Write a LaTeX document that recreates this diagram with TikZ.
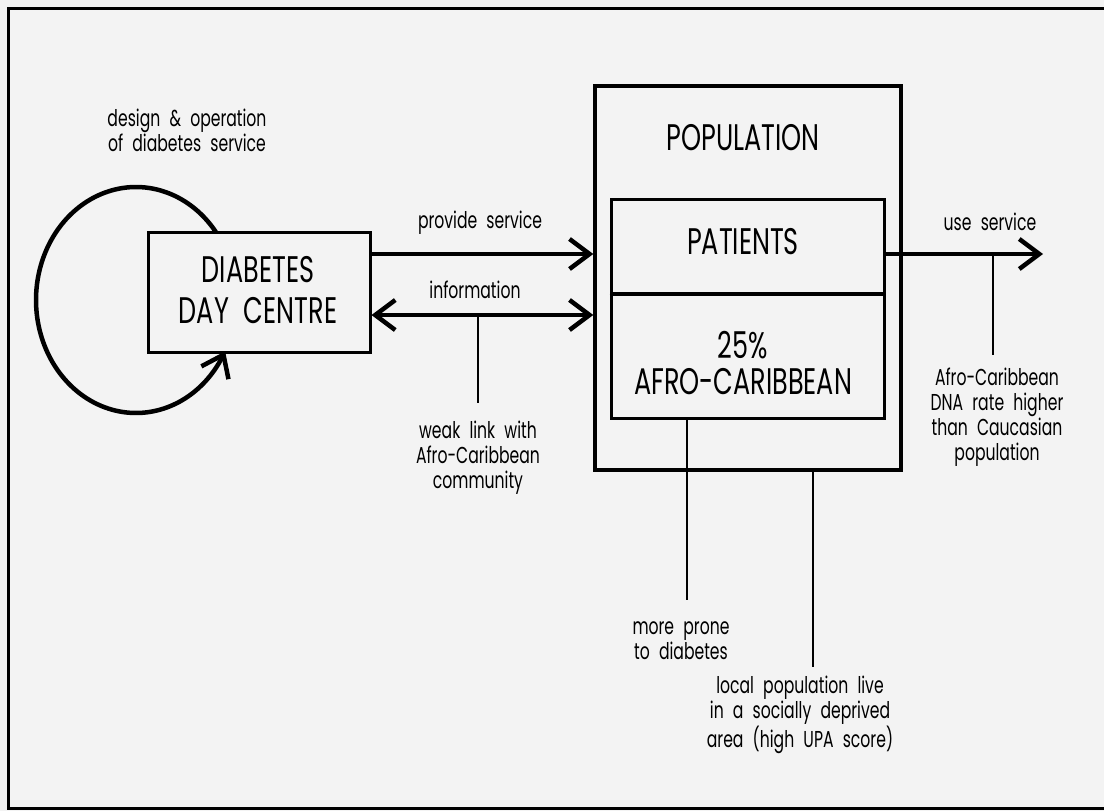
\documentclass[tikz,border=0pt]{standalone}
\usepackage{fontspec}
\setmainfont{Poppins}[FakeStretch=0.69, WordSpace=2.2]
\newfontfamily\labelfont{Poppins}[FakeStretch=0.68, WordSpace=2.2]
\usetikzlibrary{arrows.meta}
\definecolor{paper}{HTML}{F3F3F3}
\begin{document}
\begin{tikzpicture}[x=1pt, y=-1pt,
  lbl/.style={align=center, inner sep=0pt, font=\labelfont\fontsize{23}{25}\selectfont},
  bigtxt/.style={align=center, inner sep=0pt, font=\fontsize{37}{40}\selectfont},
  boxthick/.style={draw, line width=3pt, inner sep=0pt},
  arr/.style={line width=4.5pt, -{Straight Barb[length=20pt, width=30pt]}},
  darr/.style={line width=4.5pt, {Straight Barb[length=20pt, width=30pt]}-{Straight Barb[length=20pt, width=30pt]}},
  leader/.style={line width=1.6pt}]

% page and frame
\fill[paper] (0,0) rectangle (1104,811);
\useasboundingbox (0,0) rectangle (1104,811);
\draw[line width=3pt] (1104,8) -- (8,8) -- (8,808) -- (1104,808);

% boxes
\node[boxthick, minimum width=222pt, minimum height=120pt] (ddc) at (259,292) {};
\node[boxthick, line width=3.5pt, minimum width=306pt, minimum height=384pt] (pop) at (748,278) {};
\node[boxthick, minimum width=273pt, minimum height=94pt] (pat) at (747.5,246) {};
\node[boxthick, minimum width=273pt, minimum height=125pt] (afro) at (747.5,355.5) {};
\draw[line width=2pt] (pat.south west) -- (pat.south east);

% box texts
\node[bigtxt] (tddc1) at (258,270) {DIABETES};
\node[bigtxt] (tddc2) at (258,311) {DAY CENTRE};
\node[bigtxt] (tpop) at (743,138) {POPULATION};
\node[bigtxt] (tpat) at (743,242) {PATIENTS};
\node[bigtxt] (tpct) at (743,345) {25\%};
\node[bigtxt] (tafro) at (743,382) {AFRO-CARIBBEAN};

% self loop: design and operation
\draw[line width=4.5pt, -{Straight Barb[length=20pt, width=30pt]}]
  plot[domain=-37:-333, samples=80, smooth] ({136+100*cos(\x)}, {300+113*sin(\x)});
\node[lbl] (tdesign) at (187,130) {design \& operation\\of diabetes service};

% service and information flows
\coordinate (yps) at (0,254);
\coordinate (yinf) at (0,315);
\draw[arr] (ddc.east |- yps) -- (pop.west |- yps);
\node[lbl] (tprov) at (480,223) {provide service};
\draw[darr] (ddc.east |- yinf) -- (pop.west |- yinf);
\node[lbl] (tinfo) at (475,290) {information};

% weak link
\coordinate (wkt) at (478,315);
\coordinate (wkb) at (478,403);
\draw[leader] (wkt) -- (wkb);
\node[lbl] (tweak) at (478,458) {weak link with\\Afro-Caribbean\\community};

% use service
\coordinate (useend) at (1043,254);
\draw[arr] (pat.east |- yps) -- (useend);
\node[lbl] (tuse) at (990,222) {use service};
\coordinate (dnat) at (993,254);
\coordinate (dnab) at (993,355);
\draw[leader] (dnat) -- (dnab);
\node[lbl] (tdna) at (997,417) {Afro-Caribbean\\DNA rate higher\\than Caucasian\\population};

% lines below the population box
\coordinate (pr1) at (687,418);
\coordinate (pr2) at (687,600);
\draw[leader] (pr1) -- (pr2);
\node[lbl] (tprone) at (681,641) {more prone\\to diabetes};
\coordinate (lp1) at (813,470);
\coordinate (lp2) at (813,667);
\draw[leader] (lp1) -- (lp2);
\node[lbl] (tlocal) at (800,715) {local population live\\in a socially deprived\\area (high UPA score)};
\end{tikzpicture}
\end{document}
